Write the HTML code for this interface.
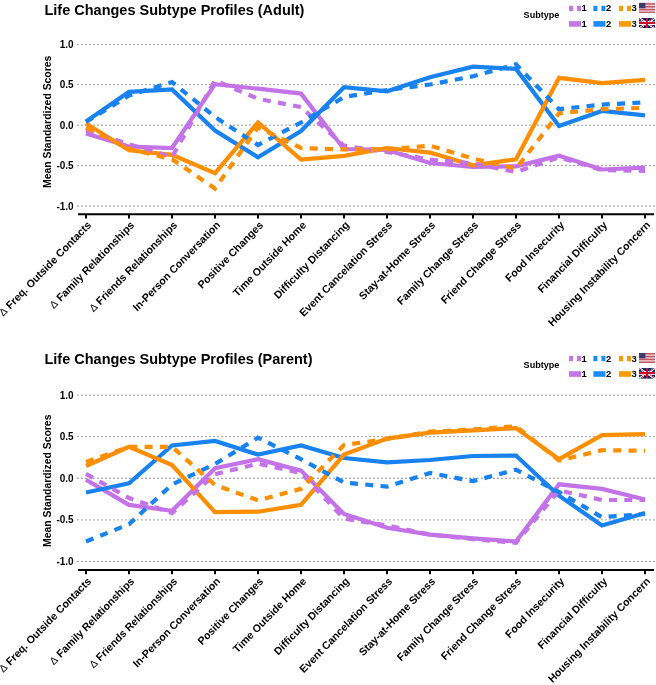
<!DOCTYPE html>
<html><head><meta charset="utf-8"><style>
html,body{margin:0;padding:0;background:#fff;width:656px;height:685px;overflow:hidden}
svg{display:block;will-change:transform}
text{font-family:"Liberation Sans",sans-serif;font-weight:bold;fill:#000}
.title{font-size:14.5px}
.ytitle{font-size:10.1px}
.ylab{font-size:10px}
.xlab{font-size:10.5px}
.leg{font-size:9.1px}
.legn{font-size:9.5px}
.delta{font-weight:normal;font-size:10.3px}
.grid{stroke:#7c7c7c;stroke-width:1.35;stroke-dasharray:0.2 3.8;stroke-linecap:round}
</style></head><body>
<svg width="656" height="685" viewBox="0 0 656 685">
<text transform="translate(44.5,14.75) scale(1,1.03)" class="title">Life Changes Subtype Profiles (Adult)</text>
<text transform="translate(523.6,17.50) scale(1,1.03)" class="leg">Subtype</text>
<rect x="569" y="5.80" width="4" height="5.3" fill="#C675E9"/>
<rect x="577" y="5.80" width="4" height="5.3" fill="#C675E9"/>
<rect x="569" y="21.10" width="12" height="5.6" fill="#C675E9"/>
<text transform="translate(581.6,11.40) scale(1,1.03)" class="legn">1</text>
<text transform="translate(581.6,26.90) scale(1,1.03)" class="legn">1</text>
<rect x="593.4" y="5.80" width="4" height="5.3" fill="#1C8AF8"/>
<rect x="601.4" y="5.80" width="4" height="5.3" fill="#1C8AF8"/>
<rect x="593.4" y="21.10" width="12" height="5.6" fill="#1C8AF8"/>
<text transform="translate(606.0,11.40) scale(1,1.03)" class="legn">2</text>
<text transform="translate(606.0,26.90) scale(1,1.03)" class="legn">2</text>
<rect x="619" y="5.80" width="4" height="5.3" fill="#FE9A00"/>
<rect x="627" y="5.80" width="4" height="5.3" fill="#FE9A00"/>
<rect x="619" y="21.10" width="12" height="5.6" fill="#FE9A00"/>
<text transform="translate(631.6,11.40) scale(1,1.03)" class="legn">3</text>
<text transform="translate(631.6,26.90) scale(1,1.03)" class="legn">3</text>
<g transform="translate(639,2.9)"><rect width="16" height="10" fill="#fff"/><rect y="0.000" width="16" height="0.769" fill="#B22234"/><rect y="1.538" width="16" height="0.769" fill="#B22234"/><rect y="3.077" width="16" height="0.769" fill="#B22234"/><rect y="4.615" width="16" height="0.769" fill="#B22234"/><rect y="6.154" width="16" height="0.769" fill="#B22234"/><rect y="7.692" width="16" height="0.769" fill="#B22234"/><rect y="9.231" width="16" height="0.769" fill="#B22234"/><rect width="6.40" height="5.385" fill="#3C3B6E"/></g>
<svg x="639" y="18" width="16" height="10.5" viewBox="0 0 60 30" preserveAspectRatio="none"><clipPath id="c18"><path d="M30,15 h30 v15 z v15 h-30 z h-30 v-15 z v-15 h30 z"/></clipPath><path d="M0,0 v30 h60 v-30 z" fill="#012169"/><path d="M0,0 L60,30 M60,0 L0,30" stroke="#fff" stroke-width="6"/><path d="M0,0 L60,30 M60,0 L0,30" clip-path="url(#c18)" stroke="#C8102E" stroke-width="4"/><path d="M30,0 v30 M0,15 h60" stroke="#fff" stroke-width="10"/><path d="M30,0 v30 M0,15 h60" stroke="#C8102E" stroke-width="6"/></svg>
<text transform="translate(50.6,121.85) scale(1,1.03) rotate(-90)" text-anchor="middle" class="ytitle">Mean Standardized Scores</text>
<line x1="77.9" y1="44.30" x2="656" y2="44.30" class="grid"/>
<text transform="translate(73.6,47.90) scale(1,1.03)" text-anchor="end" class="ylab">1.0</text>
<line x1="77.9" y1="84.60" x2="656" y2="84.60" class="grid"/>
<text transform="translate(73.6,88.20) scale(1,1.03)" text-anchor="end" class="ylab">0.5</text>
<line x1="77.9" y1="125.15" x2="656" y2="125.15" class="grid"/>
<text transform="translate(73.6,128.75) scale(1,1.03)" text-anchor="end" class="ylab">0.0</text>
<line x1="77.9" y1="165.50" x2="656" y2="165.50" class="grid"/>
<text transform="translate(73.6,169.10) scale(1,1.03)" text-anchor="end" class="ylab">-0.5</text>
<line x1="77.9" y1="206.00" x2="656" y2="206.00" class="grid"/>
<text transform="translate(73.6,209.60) scale(1,1.03)" text-anchor="end" class="ylab">-1.0</text>
<line x1="78" y1="214.20" x2="654" y2="214.20" stroke="#000" stroke-width="2"/>
<line x1="86" y1="214.20" x2="86" y2="218.50" stroke="#000" stroke-width="2"/>
<line x1="129" y1="214.20" x2="129" y2="218.50" stroke="#000" stroke-width="2"/>
<line x1="172" y1="214.20" x2="172" y2="218.50" stroke="#000" stroke-width="2"/>
<line x1="215" y1="214.20" x2="215" y2="218.50" stroke="#000" stroke-width="2"/>
<line x1="258" y1="214.20" x2="258" y2="218.50" stroke="#000" stroke-width="2"/>
<line x1="301" y1="214.20" x2="301" y2="218.50" stroke="#000" stroke-width="2"/>
<line x1="344" y1="214.20" x2="344" y2="218.50" stroke="#000" stroke-width="2"/>
<line x1="387" y1="214.20" x2="387" y2="218.50" stroke="#000" stroke-width="2"/>
<line x1="430" y1="214.20" x2="430" y2="218.50" stroke="#000" stroke-width="2"/>
<line x1="473" y1="214.20" x2="473" y2="218.50" stroke="#000" stroke-width="2"/>
<line x1="516" y1="214.20" x2="516" y2="218.50" stroke="#000" stroke-width="2"/>
<line x1="559" y1="214.20" x2="559" y2="218.50" stroke="#000" stroke-width="2"/>
<line x1="602" y1="214.20" x2="602" y2="218.50" stroke="#000" stroke-width="2"/>
<line x1="645" y1="214.20" x2="645" y2="218.50" stroke="#000" stroke-width="2"/>
<text transform="translate(91.80,225.70) scale(1,1.03) rotate(-45)" text-anchor="end" class="xlab"><tspan class="delta">Δ</tspan> Freq. Outside Contacts</text>
<text transform="translate(134.80,225.70) scale(1,1.03) rotate(-45)" text-anchor="end" class="xlab"><tspan class="delta">Δ</tspan> Family Relationships</text>
<text transform="translate(177.80,225.70) scale(1,1.03) rotate(-45)" text-anchor="end" class="xlab"><tspan class="delta">Δ</tspan> Friends Relationships</text>
<text transform="translate(220.80,225.70) scale(1,1.03) rotate(-45)" text-anchor="end" class="xlab">In-Person Conversation</text>
<text transform="translate(263.80,225.70) scale(1,1.03) rotate(-45)" text-anchor="end" class="xlab">Positive Changes</text>
<text transform="translate(306.80,225.70) scale(1,1.03) rotate(-45)" text-anchor="end" class="xlab">Time Outside Home</text>
<text transform="translate(349.80,225.70) scale(1,1.03) rotate(-45)" text-anchor="end" class="xlab">Difficulty Distancing</text>
<text transform="translate(392.80,225.70) scale(1,1.03) rotate(-45)" text-anchor="end" class="xlab">Event Cancelation Stress</text>
<text transform="translate(435.80,225.70) scale(1,1.03) rotate(-45)" text-anchor="end" class="xlab">Stay-at-Home Stress</text>
<text transform="translate(478.80,225.70) scale(1,1.03) rotate(-45)" text-anchor="end" class="xlab">Family Change Stress</text>
<text transform="translate(521.80,225.70) scale(1,1.03) rotate(-45)" text-anchor="end" class="xlab">Friend Change Stress</text>
<text transform="translate(564.80,225.70) scale(1,1.03) rotate(-45)" text-anchor="end" class="xlab">Food Insecurity</text>
<text transform="translate(607.80,225.70) scale(1,1.03) rotate(-45)" text-anchor="end" class="xlab">Financial Difficulty</text>
<text transform="translate(650.80,225.70) scale(1,1.03) rotate(-45)" text-anchor="end" class="xlab">Housing Instability Concern</text>
<polyline points="86,133.4 129,146.5 172,148.0 215,84.2 258,88.7 301,93.6 344,149.0 387,150.0 430,163.0 473,167.0 516,166.3 559,155.8 602,169.5 645,167.7" fill="none" stroke="#C472E8" stroke-width="4.2" stroke-linejoin="miter" stroke-linecap="butt"/>
<polyline points="86,121.5 129,91.8 172,89.5 215,130.6 258,157.2 301,131.0 344,87.2 387,91.3 430,77.2 473,66.6 516,68.9 559,126.0 602,111.0 645,115.3" fill="none" stroke="#1882F0" stroke-width="4.2" stroke-linejoin="miter" stroke-linecap="butt"/>
<polyline points="86,123.5 129,150.3 172,154.8 215,173.2 258,122.5 301,159.5 344,155.8 387,148.0 430,152.6 473,165.3 516,159.3 559,77.8 602,83.2 645,79.9" fill="none" stroke="#FF8E00" stroke-width="4.2" stroke-linejoin="miter" stroke-linecap="butt"/>
<polyline points="86,130.5 129,144.2 172,157.0 215,80.5 258,98.8 301,107.0 344,145.7 387,152.0 430,159.5 473,163.5 516,172.0 559,157.2 602,170.0 645,170.9" fill="none" stroke="#C472E8" stroke-width="4.2" stroke-dasharray="8 7.3" stroke-linejoin="miter" stroke-linecap="butt"/>
<polyline points="86,122.0 129,95.4 172,82.0 215,117.0 258,145.0 301,122.5 344,97.0 387,90.0 430,84.5 473,76.3 516,64.3 559,109.2 602,104.6 645,102.3" fill="none" stroke="#1882F0" stroke-width="4.2" stroke-dasharray="8 7.3" stroke-linejoin="miter" stroke-linecap="butt"/>
<polyline points="86,127.5 129,148.8 172,159.2 215,188.5 258,127.4 301,148.0 344,149.4 387,149.4 430,145.7 473,158.5 516,168.6 559,113.3 602,109.2 645,107.8" fill="none" stroke="#FF8E00" stroke-width="4.2" stroke-dasharray="8 7.3" stroke-linejoin="miter" stroke-linecap="butt"/>
<text transform="translate(44.5,364.25) scale(1,1.03)" class="title">Life Changes Subtype Profiles (Parent)</text>
<text transform="translate(523.6,367.60) scale(1,1.03)" class="leg">Subtype</text>
<rect x="569" y="355.90" width="4" height="5.3" fill="#C675E9"/>
<rect x="577" y="355.90" width="4" height="5.3" fill="#C675E9"/>
<rect x="569" y="371.20" width="12" height="5.6" fill="#C675E9"/>
<text transform="translate(581.6,361.50) scale(1,1.03)" class="legn">1</text>
<text transform="translate(581.6,377.00) scale(1,1.03)" class="legn">1</text>
<rect x="593.4" y="355.90" width="4" height="5.3" fill="#1C8AF8"/>
<rect x="601.4" y="355.90" width="4" height="5.3" fill="#1C8AF8"/>
<rect x="593.4" y="371.20" width="12" height="5.6" fill="#1C8AF8"/>
<text transform="translate(606.0,361.50) scale(1,1.03)" class="legn">2</text>
<text transform="translate(606.0,377.00) scale(1,1.03)" class="legn">2</text>
<rect x="619" y="355.90" width="4" height="5.3" fill="#FE9A00"/>
<rect x="627" y="355.90" width="4" height="5.3" fill="#FE9A00"/>
<rect x="619" y="371.20" width="12" height="5.6" fill="#FE9A00"/>
<text transform="translate(631.6,361.50) scale(1,1.03)" class="legn">3</text>
<text transform="translate(631.6,377.00) scale(1,1.03)" class="legn">3</text>
<g transform="translate(639,353.0)"><rect width="16" height="10" fill="#fff"/><rect y="0.000" width="16" height="0.769" fill="#B22234"/><rect y="1.538" width="16" height="0.769" fill="#B22234"/><rect y="3.077" width="16" height="0.769" fill="#B22234"/><rect y="4.615" width="16" height="0.769" fill="#B22234"/><rect y="6.154" width="16" height="0.769" fill="#B22234"/><rect y="7.692" width="16" height="0.769" fill="#B22234"/><rect y="9.231" width="16" height="0.769" fill="#B22234"/><rect width="6.40" height="5.385" fill="#3C3B6E"/></g>
<svg x="639" y="368.1" width="16" height="10.5" viewBox="0 0 60 30" preserveAspectRatio="none"><clipPath id="c368"><path d="M30,15 h30 v15 z v15 h-30 z h-30 v-15 z v-15 h30 z"/></clipPath><path d="M0,0 v30 h60 v-30 z" fill="#012169"/><path d="M0,0 L60,30 M60,0 L0,30" stroke="#fff" stroke-width="6"/><path d="M0,0 L60,30 M60,0 L0,30" clip-path="url(#c368)" stroke="#C8102E" stroke-width="4"/><path d="M30,0 v30 M0,15 h60" stroke="#fff" stroke-width="10"/><path d="M30,0 v30 M0,15 h60" stroke="#C8102E" stroke-width="6"/></svg>
<text transform="translate(50.6,480.75) scale(1,1.03) rotate(-90)" text-anchor="middle" class="ytitle">Mean Standardized Scores</text>
<line x1="77.9" y1="395.06" x2="656" y2="395.06" class="grid"/>
<text transform="translate(73.6,398.66) scale(1,1.03)" text-anchor="end" class="ylab">1.0</text>
<line x1="77.9" y1="436.60" x2="656" y2="436.60" class="grid"/>
<text transform="translate(73.6,440.20) scale(1,1.03)" text-anchor="end" class="ylab">0.5</text>
<line x1="77.9" y1="478.20" x2="656" y2="478.20" class="grid"/>
<text transform="translate(73.6,481.80) scale(1,1.03)" text-anchor="end" class="ylab">0.0</text>
<line x1="77.9" y1="519.80" x2="656" y2="519.80" class="grid"/>
<text transform="translate(73.6,523.40) scale(1,1.03)" text-anchor="end" class="ylab">-0.5</text>
<line x1="77.9" y1="561.40" x2="656" y2="561.40" class="grid"/>
<text transform="translate(73.6,565.00) scale(1,1.03)" text-anchor="end" class="ylab">-1.0</text>
<line x1="78" y1="569.90" x2="654" y2="569.90" stroke="#000" stroke-width="2"/>
<line x1="86" y1="569.90" x2="86" y2="574.20" stroke="#000" stroke-width="2"/>
<line x1="129" y1="569.90" x2="129" y2="574.20" stroke="#000" stroke-width="2"/>
<line x1="172" y1="569.90" x2="172" y2="574.20" stroke="#000" stroke-width="2"/>
<line x1="215" y1="569.90" x2="215" y2="574.20" stroke="#000" stroke-width="2"/>
<line x1="258" y1="569.90" x2="258" y2="574.20" stroke="#000" stroke-width="2"/>
<line x1="301" y1="569.90" x2="301" y2="574.20" stroke="#000" stroke-width="2"/>
<line x1="344" y1="569.90" x2="344" y2="574.20" stroke="#000" stroke-width="2"/>
<line x1="387" y1="569.90" x2="387" y2="574.20" stroke="#000" stroke-width="2"/>
<line x1="430" y1="569.90" x2="430" y2="574.20" stroke="#000" stroke-width="2"/>
<line x1="473" y1="569.90" x2="473" y2="574.20" stroke="#000" stroke-width="2"/>
<line x1="516" y1="569.90" x2="516" y2="574.20" stroke="#000" stroke-width="2"/>
<line x1="559" y1="569.90" x2="559" y2="574.20" stroke="#000" stroke-width="2"/>
<line x1="602" y1="569.90" x2="602" y2="574.20" stroke="#000" stroke-width="2"/>
<line x1="645" y1="569.90" x2="645" y2="574.20" stroke="#000" stroke-width="2"/>
<text transform="translate(91.80,581.90) scale(1,1.03) rotate(-45)" text-anchor="end" class="xlab"><tspan class="delta">Δ</tspan> Freq. Outside Contacts</text>
<text transform="translate(134.80,581.90) scale(1,1.03) rotate(-45)" text-anchor="end" class="xlab"><tspan class="delta">Δ</tspan> Family Relationships</text>
<text transform="translate(177.80,581.90) scale(1,1.03) rotate(-45)" text-anchor="end" class="xlab"><tspan class="delta">Δ</tspan> Friends Relationships</text>
<text transform="translate(220.80,581.90) scale(1,1.03) rotate(-45)" text-anchor="end" class="xlab">In-Person Conversation</text>
<text transform="translate(263.80,581.90) scale(1,1.03) rotate(-45)" text-anchor="end" class="xlab">Positive Changes</text>
<text transform="translate(306.80,581.90) scale(1,1.03) rotate(-45)" text-anchor="end" class="xlab">Time Outside Home</text>
<text transform="translate(349.80,581.90) scale(1,1.03) rotate(-45)" text-anchor="end" class="xlab">Difficulty Distancing</text>
<text transform="translate(392.80,581.90) scale(1,1.03) rotate(-45)" text-anchor="end" class="xlab">Event Cancelation Stress</text>
<text transform="translate(435.80,581.90) scale(1,1.03) rotate(-45)" text-anchor="end" class="xlab">Stay-at-Home Stress</text>
<text transform="translate(478.80,581.90) scale(1,1.03) rotate(-45)" text-anchor="end" class="xlab">Family Change Stress</text>
<text transform="translate(521.80,581.90) scale(1,1.03) rotate(-45)" text-anchor="end" class="xlab">Friend Change Stress</text>
<text transform="translate(564.80,581.90) scale(1,1.03) rotate(-45)" text-anchor="end" class="xlab">Food Insecurity</text>
<text transform="translate(607.80,581.90) scale(1,1.03) rotate(-45)" text-anchor="end" class="xlab">Financial Difficulty</text>
<text transform="translate(650.80,581.90) scale(1,1.03) rotate(-45)" text-anchor="end" class="xlab">Housing Instability Concern</text>
<polyline points="86,479.7 129,504.9 172,510.8 215,468.3 258,459.2 301,470.6 344,514.0 387,527.7 430,534.6 473,538.3 516,541.5 559,484.3 602,488.9 645,499.5" fill="none" stroke="#C472E8" stroke-width="4.2" stroke-linejoin="miter" stroke-linecap="butt"/>
<polyline points="86,492.5 129,483.4 172,445.4 215,440.9 258,454.6 301,445.5 344,458.0 387,462.3 430,460.0 473,456.0 516,455.5 559,495.7 602,525.5 645,513.1" fill="none" stroke="#1882F0" stroke-width="4.2" stroke-linejoin="miter" stroke-linecap="butt"/>
<polyline points="86,466.0 129,446.8 172,465.1 215,512.2 258,511.7 301,504.9 344,454.6 387,438.6 430,432.6 473,430.4 516,428.1 559,459.2 602,435.2 645,434.2" fill="none" stroke="#FF8E00" stroke-width="4.2" stroke-linejoin="miter" stroke-linecap="butt"/>
<polyline points="86,473.8 129,498.0 172,513.1 215,474.2 258,463.7 301,472.9 344,518.6 387,525.5 430,534.6 473,539.2 516,542.8 559,490.3 602,500.0 645,500.0" fill="none" stroke="#C472E8" stroke-width="4.2" stroke-dasharray="8 7.3" stroke-linejoin="miter" stroke-linecap="butt"/>
<polyline points="86,541.5 129,524.3 172,484.5 215,464.0 258,437.7 301,459.2 344,482.5 387,486.6 430,473.0 473,481.1 516,469.7 559,492.1 602,517.2 645,514.0" fill="none" stroke="#1882F0" stroke-width="4.2" stroke-dasharray="8 7.3" stroke-linejoin="miter" stroke-linecap="butt"/>
<polyline points="86,462.0 129,446.8 172,446.8 215,485.0 258,500.3 301,488.9 344,445.0 387,439.0 430,431.7 473,429.4 516,426.2 559,460.5 602,450.2 645,450.8" fill="none" stroke="#FF8E00" stroke-width="4.2" stroke-dasharray="8 7.3" stroke-linejoin="miter" stroke-linecap="butt"/>
</svg>
</body></html>
